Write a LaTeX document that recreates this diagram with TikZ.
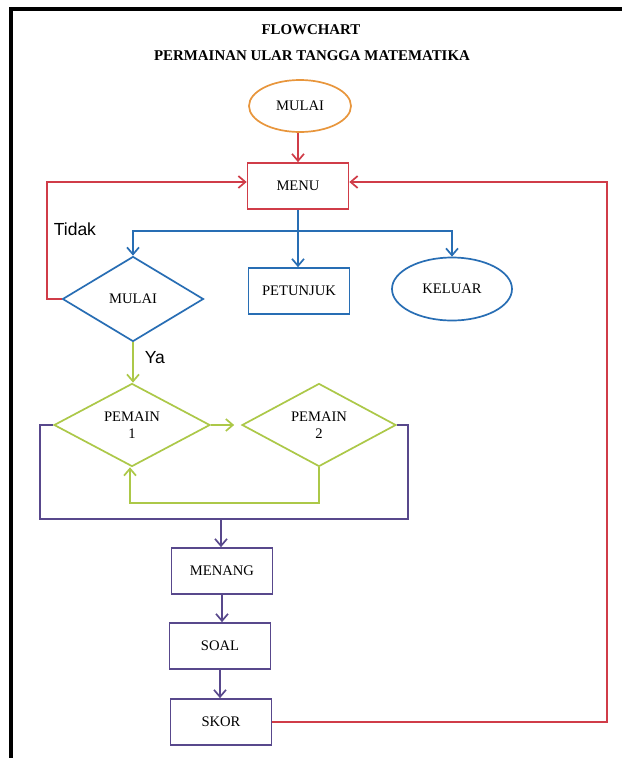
\documentclass[tikz,border=0pt]{standalone}
\usepackage{fontspec}
\setmainfont{Liberation Serif}
\newfontfamily\arialfont{Liberation Sans}
\usetikzlibrary{shapes.geometric,arrows.meta}
\definecolor{cOrange}{RGB}{232,150,60}
\definecolor{cRed}{RGB}{208,60,72}
\definecolor{cBlue}{RGB}{40,110,180}
\definecolor{cGreen}{RGB}{172,200,72}
\definecolor{cPurple}{RGB}{88,72,140}
\begin{document}
\begin{tikzpicture}[x=1pt,y=-1pt,line width=1.7pt,
  lbl/.style={font=\fontsize{14.6}{17}\selectfont,inner sep=0pt,text=black},
  boxnode/.style={draw,rectangle,minimum width=101pt,minimum height=46pt,lbl},
  ovalnode/.style={draw,ellipse,lbl},
  decnode/.style={draw,diamond,lbl,align=center},
  arr/.style={-{Straight Barb[length=7pt,width=12pt]}},
  ttl/.style={font=\fontsize{14.9}{15}\selectfont\bfseries,inner sep=0pt},
  side/.style={font=\arialfont\fontsize{17.5}{18}\selectfont,inner sep=0pt}
]
\useasboundingbox (0,0) rectangle (622,758);
\fill[white] (0,0) rectangle (622,758);
% frame
\draw[line width=4pt,black] (11,758) -- (11,9) -- (622,9);
% titles
\node[ttl] (t1) at (311,30) {FLOWCHART};
\node[ttl] (t2) at (312,56) {PERMAINAN ULAR TANGGA MATEMATIKA};
% nodes
\node[ovalnode,draw=cOrange,minimum width=102pt,minimum height=52pt] (start) at (300,106) {MULAI};
\node[boxnode,draw=cRed] (menu) at (298,186) {MENU};
\node[decnode,draw=cBlue,minimum width=141pt,minimum height=85pt] (dec) at (133,299) {MULAI};
\node[boxnode,draw=cBlue] (pet) at (299,291) {PETUNJUK};
\node[ovalnode,draw=cBlue,minimum width=120pt,minimum height=63pt] (kel) at (452,289) {KELUAR};
\node[decnode,draw=cGreen,minimum width=156pt,minimum height=83pt] (p1) at (132,425) {PEMAIN\\1};
\node[decnode,draw=cGreen,minimum width=154pt,minimum height=83pt] (p2) at (319,425) {PEMAIN\\2};
\node[boxnode,draw=cPurple] (menang) at (222,571) {MENANG};
\node[boxnode,draw=cPurple] (soal) at (220,646) {SOAL};
\node[boxnode,draw=cPurple] (skor) at (221,722) {SKOR};
% labels
\node[side,anchor=west] (tidak) at (53,229) {Tidak};
\node[side,anchor=west] (ya) at (144,358) {Ya};
% connectors
\draw[cRed,arr] (start.south -| menu.north) -- (menu.north);
\coordinate (bj) at (298,231);
\draw[cBlue] (menu.south) -- (bj);
\draw[cBlue,arr] (bj) -- (bj |- pet.north);
\draw[cBlue,arr] (bj) -| (dec.north);
\draw[cBlue,arr] (bj) -| (kel.north);
\coordinate (tl1) at (47,299);
\coordinate (tl2) at (47,182);
\draw[cRed,arr] (dec.west) -- (tl1) -- (tl2) -- ([yshift=4pt]menu.west);
\draw[cGreen,arr] (dec.south) -- (p1.north -| dec.south);
\draw[cGreen,arr] (p1.east) -- ([xshift=-7pt]p2.west);
\coordinate (gl) at (319,503);
\draw[cGreen,arr] (p2.south) -- (gl) -| ([xshift=-2pt]p1.south);
\coordinate (pl1) at (40,425);
\coordinate (pl2) at (40,519);
\coordinate (pr2) at (408,519);
\coordinate (pr1) at (408,425);
\coordinate (pj) at (221,519);
\draw[cPurple] (p1.west) -- (pl1) -- (pl2) -- (pr2) -- (pr1) -- (p2.east);
\draw[cPurple,arr] (pj) -- (pj |- menang.north);
\draw[cPurple,arr] (menang.south) -- (menang.south |- soal.north);
\draw[cPurple,arr] (soal.south) -- (soal.south |- skor.north);
\coordinate (rr1) at (607,722);
\coordinate (rr2) at (607,182);
\draw[cRed,arr] (skor.east) -- (rr1) -- (rr2) -- ([yshift=4pt]menu.east);
\end{tikzpicture}
\end{document}
